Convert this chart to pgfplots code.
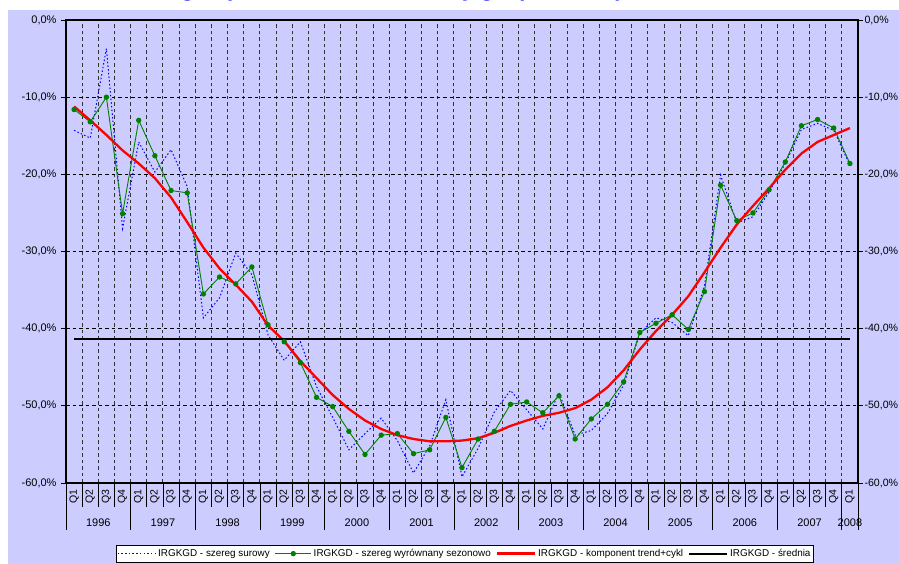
\documentclass[border=0pt]{standalone}
\usepackage{pgfplots}
\pgfplotsset{compat=1.18}
\usepackage{pgfplotstable}
\usepackage{fontspec}
\setmainfont{Liberation Sans}
\definecolor{lav}{RGB}{204,204,255}
\definecolor{grn}{RGB}{0,128,0}
\pgfplotsset{
  longline/.style={legend image code/.code={\draw[##1] (0pt,0pt) -- (38pt,0pt);}},
  longmark/.style={legend image code/.code={\draw[##1, mark repeat=2, mark phase=2] plot coordinates {(0pt,0pt) (18pt,0pt) (36pt,0pt)};}},
}
\pgfplotstableread{
i raw sa trend
0 -14.3 -11.6 -11.2
1 -15.3 -13.2 -13.0
2 -3.7 -10.0 -14.9
3 -27.0 -25.1 -16.9
4 -15.8 -13.0 -18.6
5 -19.7 -17.6 -20.5
6 -16.8 -22.1 -23.0
7 -21.6 -22.4 -26.2
8 -38.6 -35.5 -29.5
9 -36.0 -33.3 -32.2
10 -30.2 -34.2 -34.3
11 -33.0 -32.0 -36.5
12 -40.8 -39.5 -39.6
13 -44.1 -41.7 -41.6
14 -41.7 -44.4 -44.2
15 -47.5 -48.9 -46.4
16 -51.5 -50.1 -48.6
17 -55.7 -53.3 -50.4
18 -53.6 -56.3 -51.9
19 -51.6 -53.8 -53.0
20 -54.5 -53.6 -53.8
21 -58.7 -56.2 -54.3
22 -55.2 -55.7 -54.6
23 -49.2 -51.5 -54.6
24 -59.2 -58.0 -54.5
25 -55.5 -54.3 -54.2
26 -50.8 -53.3 -53.5
27 -48.0 -49.8 -52.6
28 -50.5 -49.5 -51.9
29 -53.0 -50.9 -51.3
30 -48.3 -48.7 -50.9
31 -53.8 -54.3 -50.3
32 -53.2 -51.7 -49.2
33 -51.0 -49.8 -47.6
34 -47.3 -46.9 -45.4
35 -40.6 -40.5 -42.7
36 -38.6 -39.3 -40.3
37 -39.2 -38.2 -38.2
38 -40.9 -40.1 -35.8
39 -34.5 -35.2 -32.7
40 -20.1 -21.4 -29.5
41 -26.3 -26.0 -26.5
42 -25.5 -25.0 -24.1
43 -22.3 -22.0 -21.8
44 -18.6 -18.4 -19.4
45 -14.2 -13.7 -17.3
46 -13.4 -12.9 -15.8
47 -14.3 -14.0 -14.9
48 -18.8 -18.6 -14.0
}\data
\begin{document}
\begin{tikzpicture}[x=1pt,y=1pt]
\useasboundingbox (0,0) rectangle (899,564);
\fill[white] (0,0) rectangle (899,564);
\fill[lav] (8,0) rectangle (899,554);
\node[anchor=base, text=blue, font=\bfseries\fontsize{22}{26}\selectfont] at (440,567) {Ogólny wskaźnik koniunktury gospodarczej IRGKGD};
\begin{axis}[
  at={(66pt,81pt)}, anchor=south west, scale only axis,
  width=792pt, height=463pt,
  xmin=-0.5, xmax=48.5, ymin=-60, ymax=0,
  clip=false,
  axis line style={black, line width=1.2pt},
  xtick={0,...,48},
  xticklabels={Q1,Q2,Q3,Q4,Q1,Q2,Q3,Q4,Q1,Q2,Q3,Q4,Q1,Q2,Q3,Q4,Q1,Q2,Q3,Q4,Q1,Q2,Q3,Q4,Q1,Q2,Q3,Q4,Q1,Q2,Q3,Q4,Q1,Q2,Q3,Q4,Q1,Q2,Q3,Q4,Q1,Q2,Q3,Q4,Q1,Q2,Q3,Q4,Q1},
  xtick style={draw=none},
  xticklabel style={rotate=90, anchor=east, font=\fontsize{10.5}{12}\selectfont, inner sep=1pt},
  minor xtick={0.5,1.5,...,47.5},
  xminorgrids,
  minor x grid style={black!80, line width=1pt, dash pattern=on 3.5pt off 3pt},
  minor tick length=0pt,
  ytick={-60,-50,...,0},
  yticklabels={{-60,0\%},{-50,0\%},{-40,0\%},{-30,0\%},{-20,0\%},{-10,0\%},{0,0\%}},
  yticklabel pos=left,
  ytick pos=both,
  tick align=outside,
  major tick length=5pt,
  ytick style={black, line width=0.8pt},
  yticklabel style={font=\fontsize{11}{13}\selectfont, xshift=-1pt},
  ymajorgrids,
  major grid style={black, line width=1pt, dash pattern=on 3.5pt off 3pt},
  legend columns=4,
  legend style={at={(0.0631,-0.134)}, anchor=north west, draw=black, fill=white,
    font=\fontsize{9.9}{12}\selectfont, inner xsep=1pt, inner ysep=2pt,
    /tikz/every even column/.append style={column sep=3pt}},
  legend cell align=left,
]
\addplot[blue, line width=1pt, dash pattern=on 1.5pt off 2.2pt, longline] table[x=i,y=raw] {\data};
\addlegendentry{IRGKGD - szereg surowy}
\addplot[grn, line width=0.9pt, mark=*, mark size=2.2pt, mark options={fill=grn, draw=grn}, longmark] table[x=i,y=sa] {\data};
\addlegendentry{IRGKGD - szereg wyrównany sezonowo}
\addplot[red, line width=2.3pt, longline] table[x=i,y=trend] {\data};
\addlegendentry{IRGKGD - komponent trend+cykl}
\addplot[black, line width=2pt, longline] coordinates {(0,-41.3) (48,-41.3)};
\addlegendentry{IRGKGD - średnia}
\pgfplotsextra{
  \foreach \k in {0,...,48} {\pgfmathsetmacro{\xk}{\k-0.5}\draw[black, line width=0.7pt] (axis cs:\xk,-60) -- ++(0pt,-24pt);}
  \foreach \k in {0,4,...,48} {\pgfmathsetmacro{\xk}{\k-0.5}\draw[black, line width=0.7pt] (axis cs:\xk,-60) -- ++(0pt,-47pt);}
  \draw[black, line width=0.7pt] (axis cs:48.5,-60) -- ++(0pt,-47pt);
  \foreach \yr in {1996,...,2007} {\pgfmathsetmacro{\xc}{(\yr-1996)*4+1.5}\node[font=\fontsize{11}{13}\selectfont] at (axis cs:\xc,-60) [yshift=-40pt] {\yr};}
  \node[font=\fontsize{11}{13}\selectfont] at (axis cs:48,-60) [yshift=-40pt] {2008};
}
\end{axis}
\begin{axis}[
  at={(66pt,81pt)}, anchor=south west, scale only axis,
  width=792pt, height=463pt,
  xmin=-0.5, xmax=48.5, ymin=-60, ymax=0,
  hide x axis,
  axis y line*=right,
  y axis line style={draw=none},
  ytick={-60,-50,...,0},
  yticklabels={{-60,0\%},{-50,0\%},{-40,0\%},{-30,0\%},{-20,0\%},{-10,0\%},{0,0\%}},
  ytick style={draw=none},
  yticklabel style={font=\fontsize{10.6}{13}\selectfont, xshift=3pt},
]
\end{axis}
\end{tikzpicture}
\end{document}
